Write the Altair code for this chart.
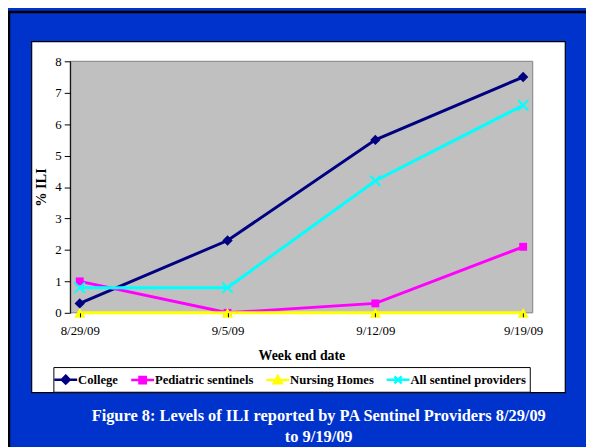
import altair as alt
import pandas as pd

# ---- data ----
dates = ["8/29/09", "9/5/09", "9/12/09", "9/19/09"]
series_names = ["College", "Pediatric sentinels", "Nursing Homes", "All sentinel providers"]
college = [0.3, 2.3, 5.5, 7.5]
pediatric = [1.0, 0.0, 0.3, 2.1]
nursing = [0.0, 0.0, 0.0, 0.0]
all_sentinel = [0.8, 0.8, 4.2, 6.6]
y_ticks = [0, 1, 2, 3, 4, 5, 6, 7, 8]
caption_lines = ["Figure 8: Levels of ILI reported by PA Sentinel Providers 8/29/09", "to 9/19/09"]
x_title = "Week end date"
y_title = "% ILI"

# ---- styles ----
colors = ["#000080", "#FF00FF", "#FFFF00", "#00FFFF"]
XMARK = "M-1,-1L1,1M-1,1L1,-1"
point_shapes = ["diamond", "square", "triangle-up", XMARK]
point_sizes = [110, 64, 130, 110]
point_filled = [True, True, True, False]
LINE = "M-1.45,0L1.45,0"
legend_shapes = [
    LINE + "M0,-0.5L0.5,0L0,0.5L-0.5,0Z",
    LINE + "M-0.4,-0.4L0.4,-0.4L0.4,0.4L-0.4,0.4Z",
    LINE + "M0,-0.5L0.5,0.4L-0.5,0.4Z",
    LINE + "M-0.45,-0.45L0.45,0.45M-0.45,0.45L0.45,-0.45",
]
SERIF = "Liberation Serif"
W, H = 469, 255

values = [college, pediatric, nursing, all_sentinel]
rows = []
for name, vals in zip(series_names, values):
    for d, v in zip(dates, vals):
        rows.append({"date": d, "series": name, "value": v})
df = pd.DataFrame(rows)

one = pd.DataFrame({"a": [0]})

x_enc = alt.X(
    "date:N",
    scale=alt.Scale(type="point", domain=dates, padding=0.065),
    axis=alt.Axis(
        title=x_title, labelFont=SERIF, labelFontSize=13, labelColor="black",
        labelAngle=0, tickSize=4, tickColor="black", domain=False, labelPadding=8,
        titleFont=SERIF, titleFontSize=14, titleFontWeight="bold", titleColor="black",
        titleY=43, titleBaseline="middle", grid=False, zindex=1,
    ),
)
y_enc = alt.Y(
    "value:Q",
    scale=alt.Scale(domain=[0, 8], nice=False, zero=True),
    axis=alt.Axis(
        title=y_title, values=y_ticks, labelFont=SERIF, labelFontSize=13,
        labelColor="black", tickSize=6, tickColor="black", domainColor="black",
        labelPadding=3, titleFont=SERIF, titleFontSize=14.5, titleFontWeight="bold",
        titleColor="black", titleX=-29, titleY=H / 2, titleAngle=270,
        titleAlign="center", titleBaseline="middle", grid=False, zindex=1,
    ),
)

frame = alt.Chart(one).mark_rect(fill="#0033CC", stroke="black", strokeWidth=2.5).encode(
    x=alt.value(-62), x2=alt.value(620), y=alt.value(-50), y2=alt.value(520)
)
panel = alt.Chart(one).mark_rect(fill="white", stroke="black", strokeWidth=1.2).encode(
    x=alt.value(-39), x2=alt.value(502), y=alt.value(-20), y2=alt.value(336)
)
plotbg = alt.Chart(one).mark_rect(fill="#C0C0C0", stroke="#808080", strokeWidth=1).encode(
    x=alt.value(0), x2=alt.value(W), y=alt.value(0), y2=alt.value(H)
)

layers = [frame, panel, plotbg]
for i, name in enumerate(series_names):
    base = alt.Chart(df).transform_filter(alt.datum.series == name)
    line = base.mark_line(color=colors[i], strokeWidth=3).encode(x=x_enc, y=y_enc)
    if point_filled[i]:
        pts = base.mark_point(shape=point_shapes[i], filled=True, color=colors[i],
                              size=point_sizes[i], opacity=1)
    else:
        pts = base.mark_point(shape=point_shapes[i], filled=False, color=colors[i],
                              size=point_sizes[i], strokeWidth=2, opacity=1)
    layers += [line, pts.encode(x=x_enc, y=y_enc)]

leg = alt.Legend(
    orient="none", legendX=-17, legendY=310, direction="horizontal", columns=4,
    title=None, strokeColor="black", fillColor="white", padding=3,
    symbolSize=256, symbolStrokeWidth=2.5, labelFont=SERIF, labelFontSize=12.8,
    labelFontWeight="bold", labelColor="black", labelOffset=3, columnPadding=7,
    symbolOpacity=1,
)
legend_layer = alt.Chart(df).transform_filter("false").mark_point(filled=True).encode(
    x=x_enc, y=y_enc,
    fill=alt.Fill("series:N", scale=alt.Scale(domain=series_names, range=colors), legend=leg),
    stroke=alt.Stroke("series:N", scale=alt.Scale(domain=series_names, range=colors), legend=leg),
    shape=alt.Shape("series:N", scale=alt.Scale(domain=series_names, range=legend_shapes), legend=leg),
)
layers.append(legend_layer)

caption = alt.Chart(one).mark_text(
    font=SERIF, fontSize=16.6, fontWeight="bold", color="white", align="center",
    baseline="alphabetic", lineHeight=21,
).encode(x=alt.value(252), y=alt.value(364.5), text=alt.value(caption_lines))
layers.append(caption)

chart = alt.layer(*layers).properties(
    width=W, height=H,
    padding={"left": 63, "top": 51, "right": 54, "bottom": 133},
    autosize=alt.AutoSizeParams(type="none"),
    background="#0033CC",
).configure_view(stroke=None)

chart.save("out.html", embed_options={"renderer": "svg", "actions": False})
